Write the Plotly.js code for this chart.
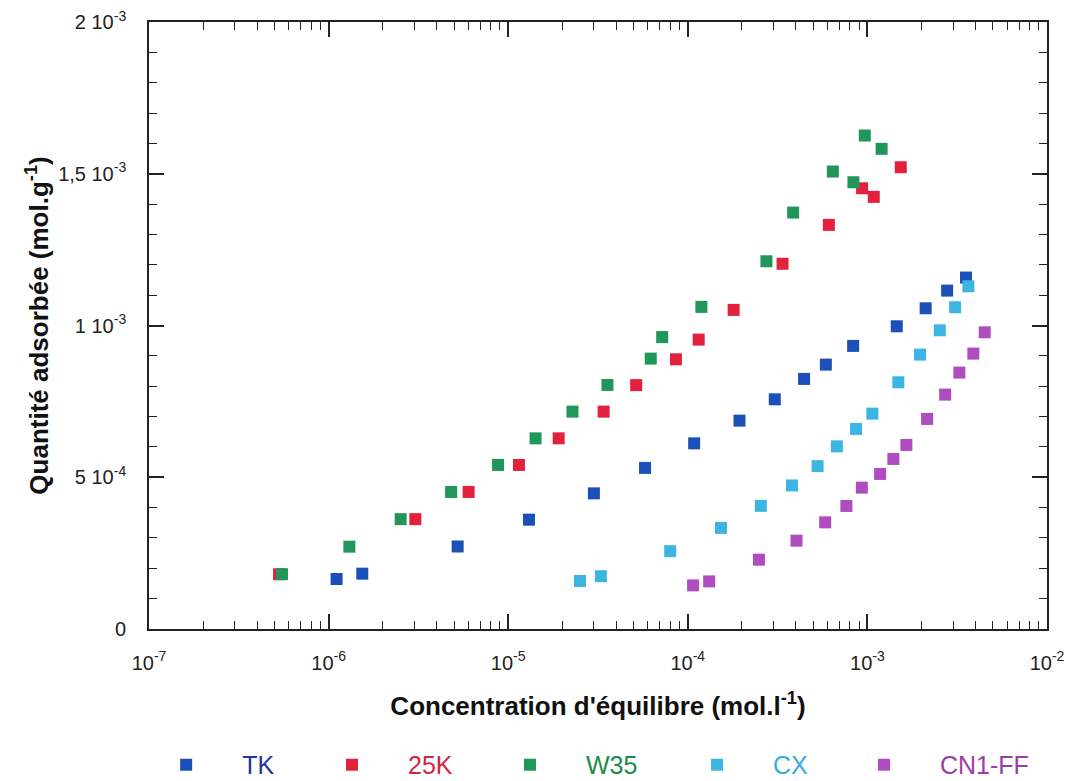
<!DOCTYPE html>
<html>
<head>
<meta charset="utf-8">
<script src="https://cdn.plot.ly/plotly-3.0.1.min.js"></script>
<style>html,body{margin:0;padding:0;background:#fff;}#chart{width:1074px;height:781px;}</style>
</head>
<body>
<div id="chart"></div>
<script>
// Series names
const seriesNames = ['TK', '25K', 'W35', 'CX', 'CN1-FF'];

// TK
const tkX = [1.108e-6, 1.54e-6, 5.23e-6, 1.305e-5, 3.0e-5, 5.78e-5, 1.085e-4, 1.94e-4, 3.05e-4, 4.44e-4, 5.87e-4, 8.33e-4, 1.457e-3, 2.11e-3, 2.78e-3, 3.54e-3];
const tkY = [1.648e-4, 1.823e-4, 2.719e-4, 3.603e-4, 4.469e-4, 5.307e-4, 6.117e-4, 6.866e-4, 7.568e-4, 8.24e-4, 8.711e-4, 9.328e-4, 9.974e-4, 1.0567e-3, 1.115e-3, 1.158e-3];

// 25K
const k25X = [5.30e-7, 3.04e-6, 6.02e-6, 1.148e-5, 1.91e-5, 3.40e-5, 5.16e-5, 8.59e-5, 1.15e-4, 1.80e-4, 3.37e-4, 6.10e-4, 9.34e-4, 1.085e-3, 1.534e-3];
const k25Y = [1.806e-4, 3.619e-4, 4.516e-4, 5.405e-4, 6.282e-4, 7.162e-4, 8.036e-4, 8.886e-4, 9.535e-4, 1.0514e-3, 1.2034e-3, 1.3316e-3, 1.4522e-3, 1.4239e-3, 1.5214e-3];

// W35
const w35X = [5.50e-7, 1.305e-6, 2.52e-6, 4.81e-6, 8.78e-6, 1.42e-5, 2.28e-5, 3.57e-5, 6.22e-5, 7.20e-5, 1.19e-4, 2.74e-4, 3.86e-4, 6.42e-4, 8.36e-4, 9.67e-4, 1.20e-3];
const w35Y = [1.806e-4, 2.713e-4, 3.619e-4, 4.516e-4, 5.405e-4, 6.282e-4, 7.162e-4, 8.042e-4, 8.909e-4, 9.618e-4, 1.0613e-3, 1.2116e-3, 1.3721e-3, 1.5073e-3, 1.472e-3, 1.626e-3, 1.582e-3];

// CX
const cxX = [2.51e-5, 3.28e-5, 7.98e-5, 1.53e-4, 2.55e-4, 3.80e-4, 5.28e-4, 6.76e-4, 8.65e-4, 1.066e-3, 1.487e-3, 1.965e-3, 2.53e-3, 3.08e-3, 3.65e-3];
const cxY = [1.582e-4, 1.740e-4, 2.564e-4, 3.332e-4, 4.057e-4, 4.730e-4, 5.366e-4, 6.018e-4, 6.592e-4, 7.096e-4, 8.128e-4, 9.041e-4, 9.842e-4, 1.060e-3, 1.1292e-3];

// CN1-FF
const cnX = [1.07e-4, 1.315e-4, 2.49e-4, 4.03e-4, 5.82e-4, 7.64e-4, 9.31e-4, 1.177e-3, 1.395e-3, 1.648e-3, 2.15e-3, 2.71e-3, 3.25e-3, 3.89e-3, 4.50e-3];
const cnY = [1.437e-4, 1.569e-4, 2.284e-4, 2.910e-4, 3.514e-4, 4.054e-4, 4.657e-4, 5.109e-4, 5.603e-4, 6.065e-4, 6.922e-4, 7.723e-4, 8.448e-4, 9.074e-4, 9.776e-4];

// Tick labels
const xTickVals = [1e-7, 1e-6, 1e-5, 1e-4, 1e-3, 1e-2];
const xTickText = ['10<sup>-7</sup>', '10<sup>-6</sup>', '10<sup>-5</sup>', '10<sup>-4</sup>', '10<sup>-3</sup>', '10<sup>-2</sup>'];
const yTickVals = [0, 5e-4, 1e-3, 1.5e-3, 2e-3];
const yTickText = ['0', '5 10<sup>-4</sup>', '1 10<sup>-3</sup>', '1,5 10<sup>-3</sup>', '2 10<sup>-3</sup>'];

const markerColors = ['#1a50b8', '#e3213d', '#22955a', '#3db5e2', '#ae4cc0'];
const legendTextColors = ['#23369c', '#d3263f', '#1e8a46', '#3aa9dd', '#9a3ea6'];

const xs = [tkX, k25X, w35X, cxX, cnX];
const ys = [tkY, k25Y, w35Y, cxY, cnY];
const legendIds = ['legend', 'legend2', 'legend3', 'legend4', 'legend5'];

const traces = seriesNames.map((n, i) => ({
  type: 'scatter', mode: 'markers', name: n,
  x: xs[i], y: ys[i],
  legend: legendIds[i],
  marker: {symbol: 'square', size: 12, color: markerColors[i], line: {width: 0}},
  hoverinfo: 'x+y+name'
}));
// empty helper trace so the tick-only overlay axes (inside ticks, all four sides) are drawn
traces.push({type: 'scatter', mode: 'markers', x: [], y: [], xaxis: 'x2', yaxis: 'y2', showlegend: false, hoverinfo: 'skip'});

const FONT = 'Liberation Sans, Arial, sans-serif';
const INK = '#222';
const legendX = [-0.021, 0.1637, 0.3619, 0.5702, 0.7561];

const layout = {
  width: 1074, height: 781,
  margin: {l: 149, r: 27, t: 22, b: 152, autoexpand: false},
  paper_bgcolor: '#ffffff', plot_bgcolor: '#ffffff',
  font: {family: FONT, color: INK},
  showlegend: true,
  // label axes (transparent outside ticks only push the labels away from the frame)
  xaxis: {
    type: 'log', range: [-7, -2], automargin: false,
    tickmode: 'array', tickvals: xTickVals, ticktext: xTickText,
    ticks: 'outside', ticklen: 15, tickcolor: 'rgba(0,0,0,0)',
    showline: true, linecolor: INK, linewidth: 1.6, mirror: true,
    showgrid: false, zeroline: false,
    tickfont: {family: FONT, size: 20, color: INK},
    title: {text: "Concentration d'équilibre (mol.l<sup>-1</sup>)", font: {family: FONT, size: 26, color: '#111', weight: 'bold'}, standoff: 24}
  },
  yaxis: {
    range: [0, 2e-3], automargin: false,
    tickmode: 'array', tickvals: yTickVals, ticktext: yTickText,
    ticks: 'outside', ticklen: 17, tickcolor: 'rgba(0,0,0,0)',
    showline: true, linecolor: INK, linewidth: 1.6, mirror: true,
    showgrid: false, zeroline: false,
    tickfont: {family: FONT, size: 20, color: INK},
    title: {text: 'Quantité adsorbée (mol.g<sup>-1</sup>)', font: {family: FONT, size: 26, color: '#111', weight: 'bold'}, standoff: 2}
  },
  // tick axes: inside major + minor ticks mirrored on all sides
  xaxis2: {
    type: 'log', range: [-7, -2], overlaying: 'x', anchor: 'y2', side: 'bottom',
    tickmode: 'array', tickvals: xTickVals, showticklabels: false,
    ticks: 'inside', ticklen: 15, tickwidth: 1.5, tickcolor: INK,
    showline: true, linecolor: INK, linewidth: 1.6, mirror: 'ticks',
    showgrid: false, zeroline: false,
    minor: {dtick: 'D1', ticks: 'inside', ticklen: 8, tickwidth: 1.2, tickcolor: INK, showgrid: false}
  },
  yaxis2: {
    range: [0, 2e-3], overlaying: 'y', anchor: 'x2', side: 'left',
    tickmode: 'array', tickvals: yTickVals, showticklabels: false,
    ticks: 'inside', ticklen: 15, tickwidth: 1.5, tickcolor: INK,
    showline: true, linecolor: INK, linewidth: 1.6, mirror: 'ticks',
    showgrid: false, zeroline: false,
    minor: {tickmode: 'linear', dtick: 1e-4, tick0: 0, ticks: 'inside', ticklen: 8, tickwidth: 1.2, tickcolor: INK, showgrid: false}
  }
};

legendIds.forEach((id, i) => {
  layout[id] = {
    orientation: 'h', x: legendX[i], xanchor: 'left', xref: 'paper',
    y: -0.224, yanchor: 'middle', yref: 'paper',
    itemwidth: 102, bgcolor: 'rgba(0,0,0,0)', borderwidth: 0,
    font: {family: FONT, size: 25, color: legendTextColors[i]},
    itemclick: false, itemdoubleclick: false
  };
});

Plotly.newPlot('chart', traces, layout, {displayModeBar: false, responsive: false});
</script>
</body>
</html>
